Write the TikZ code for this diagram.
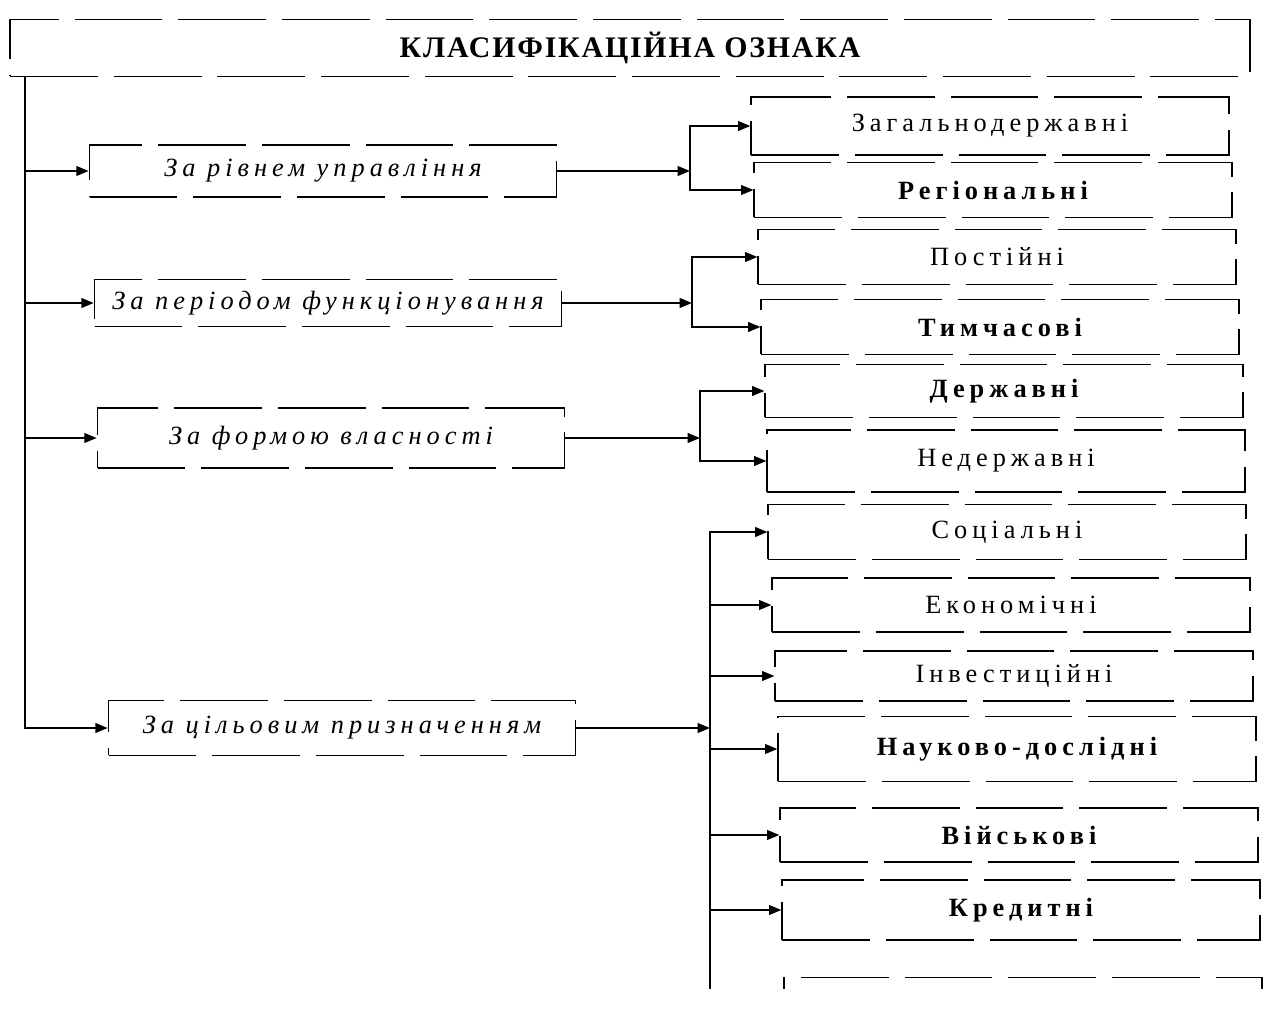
\documentclass[tikz,border=0pt]{standalone}
\usepackage{fontspec}
\setmainfont{Liberation Serif}
\newfontfamily\headfont[LetterSpace=6]{Liberation Serif}
\newfontfamily\widefont[LetterSpace=19]{Liberation Serif}
\usetikzlibrary{arrows.meta}

\begin{document}
\begin{tikzpicture}[x=0.02cm,y=-0.02cm]

% definitions
\tikzstyle{scanline} = [line width=1pt, dash pattern=on 50pt off 9pt]

\tikzstyle{heading} = [rectangle, minimum width=24.8cm, minimum height=1.14cm, text centered, draw=black, scanline, font=\fontsize{17}{19}\selectfont\headfont\bfseries]

\tikzstyle{criterion} = [rectangle, minimum width=9.34cm, minimum height=1.04cm, text centered, draw=black, scanline, font=\fontsize{15}{17}\selectfont\widefont\itshape]

\tikzstyle{kind} = [rectangle, minimum width=9.55cm, minimum height=1.1cm, text centered, draw=black, scanline, font=\fontsize{15}{17}\selectfont\widefont]

\tikzstyle{arrow} = [line width=1pt, -{Triangle[length=7pt,width=5.5pt]}]

\useasboundingbox (0,0) rectangle (1272,1024);
\begin{scope}
\clip (0,0) rectangle (1272,988);

% the graph
\node (c0) [heading] at (630,48) {КЛАСИФІКАЦІЙНА ОЗНАКА};

\node (k1) [criterion] at (323,171) {За рівнем управління};
\node (k2) [criterion, minimum height=0.94cm] at (328,303) {За періодом функціонування};
\node (k3) [criterion, minimum height=1.2cm] at (331,438) {За формою власності};
\node (k4) [criterion, minimum height=1.1cm] at (342,728) {За цільовим призначенням};

\node (t1) [kind, minimum height=1.16cm] at (990,126) {Загальнодержавні};
\node (t2) [kind] at (993,190) {\bfseries Регіональні};
\node (t3) [kind] at (997,257) {Постійні};
\node (t4) [kind] at (1000,327) {\bfseries Тимчасові};
\node (t5) [kind, minimum height=1.06cm] at (1004,391) {\bfseries Державні};
\node (t6) [kind, minimum height=1.24cm] at (1006,461) {Недержавні};
\node (t7) [kind] at (1007,532) {Соціальні};
\node (t8) [kind, minimum height=1.08cm] at (1011,605) {Економічні};
\node (t9) [kind, minimum height=1cm] at (1014,676) {Інвестиційні};
\node (t10) [kind, minimum height=1.3cm] at (1017,749) {\bfseries Науково-дослідні};
\node (t11) [kind, minimum height=1.08cm] at (1019,835) {\bfseries Військові};
\node (t12) [kind, minimum height=1.2cm] at (1021,910) {\bfseries Кредитні};
\node (t13) [kind, minimum height=1.3cm, dash phase=10pt] at (1023,1010) {};

\coordinate (trunk) at (25,77);
\coordinate (j1) at (690,171);
\coordinate (j2) at (692,303);
\coordinate (j3) at (700,438);
\coordinate (j4) at (710,728);

\foreach \k in {k1,k2,k3,k4}
  \draw [arrow] (trunk) |- (\k.west);

\draw [arrow] (k1) -- (j1);
\draw [arrow] (k2) -- (j2);
\draw [arrow] (k3) -- (j3);
\draw [arrow] (k4) -- (j4);

\draw [arrow] (j1) |- (t1.west);
\draw [arrow] (j1) |- (t2.west);
\draw [arrow] (j2) |- (t3.west);
\draw [arrow] (j2) |- (t4.west);
\draw [arrow] (j3) |- (t5.west);
\draw [arrow] (j3) |- (t6.west);
\foreach \t in {t7,t8,t9,t10,t11,t12,t13}
  \draw [arrow] (j4) |- (\t.west);

\end{scope}
\end{tikzpicture}
\end{document}
